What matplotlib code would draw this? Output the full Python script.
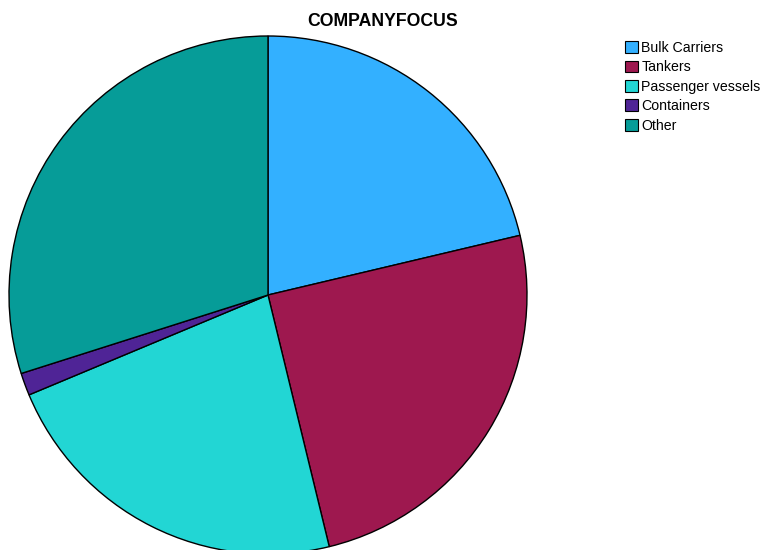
import matplotlib
matplotlib.use("Agg")
import matplotlib.pyplot as plt

categories = ["Bulk Carriers", "Tankers", "Passenger vessels", "Containers", "Other"]
shares = [21.3, 24.9, 22.5, 1.4, 29.9]
colors = ["#33B0FF", "#9E184F", "#22D6D4", "#4F2496", "#069C98"]

W, H = 766, 550
fig = plt.figure(figsize=(W / 100, H / 100), dpi=100)
plt.rcParams["font.family"] = ["Liberation Sans", "DejaVu Sans"]

cx, cy, r = 268, 295, 259
ax = fig.add_axes([(cx - r) / W, (H - cy - r) / H, 2 * r / W, 2 * r / H])
wedges, _ = ax.pie(shares, colors=colors, startangle=90, counterclock=False,
                   radius=1.0,
                   wedgeprops=dict(edgecolor="black", linewidth=1.0))
ax.set_xlim(-1, 1)
ax.set_ylim(-1, 1)
ax.set_aspect("auto")
ax.axis("off")

fig.text(383 / W, 1 - 21 / H, "COMPANYFOCUS", ha="center", va="center",
         fontsize=12.7, fontweight="bold")

leg = fig.legend(wedges, categories, loc="upper left",
                 bbox_to_anchor=(618 / W, 1 - 34 / H), frameon=False,
                 fontsize=10.2, handlelength=0.9, handleheight=0.9,
                 handletextpad=0.25, labelspacing=0.38, borderpad=0)
for h in leg.legend_handles:
    h.set_linewidth(0.8)

fig.savefig("out.png", dpi=100)
